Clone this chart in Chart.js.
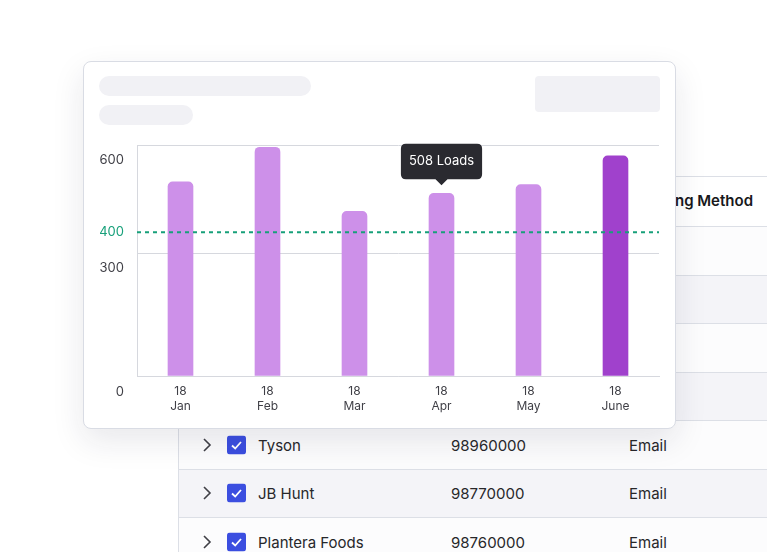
<!DOCTYPE html>
<html lang="en">
  <head>
    <meta charset="UTF-8" />
    <title>Monthly Loads</title>
    <style>
      html, body { margin: 0; padding: 0; }
      body {
        width: 767px; height: 552px; overflow: hidden; position: relative;
        background: #fff; font-family: Inter, "Noto Sans", sans-serif; color: #27272a;
      }
      .table {
        position: absolute; left: 178px; top: 176px; right: 0; bottom: 0;
        border-left: 1px solid #dcdfe6; z-index: 1;
      }
      .head {
        height: 50px; box-sizing: border-box; border-top: 1px solid #dcdfe6;
        position: relative; background: #fff;
      }
      .head span {
        position: absolute; right: 14px; top: 14px;
        font-size: 15px; font-weight: 600; color: #18181b;
      }
      .row {
        height: 48.5px; box-sizing: border-box; border-top: 1px solid #dcdfe6;
        position: relative; background: #fcfcfd; font-size: 15px;
      }
      .row.alt { background: #f4f4f8; }
      .row > * { position: absolute; top: 50%; transform: translateY(-50%); }
      .row .chev { left: 23px; }
      .row .box { left: 48px; }
      .row .name { left: 79px; }
      .row .num { left: 272px; }
      .row .method { left: 450px; }
      .card {
        position: absolute; left: 83px; top: 61px; width: 593px; height: 368px;
        box-sizing: border-box; border: 1px solid #d9dce4; border-radius: 8px;
        background: #fff; box-shadow: 0 12px 32px rgba(30, 30, 60, 0.10); z-index: 2;
      }
      .skel { position: absolute; background: #f1f1f5; z-index: 3; }
      #loadsChart { position: absolute; left: 90px; top: 125px; z-index: 3; }
    </style>
  </head>
  <body>
    <div class="table" id="table"></div>
    <div class="card"></div>
    <div class="skel" style="left:99px;top:76px;width:212px;height:20px;border-radius:10px"></div>
    <div class="skel" style="left:99px;top:105px;width:94px;height:20px;border-radius:10px"></div>
    <div class="skel" style="left:535px;top:76px;width:125px;height:36px;border-radius:4px"></div>
    <canvas id="loadsChart" width="578" height="296"></canvas>

    <script src="https://cdn.jsdelivr.net/npm/chart.js"></script>
    <script>
      // chart data
      const months = ["Jan", "Feb", "Mar", "Apr", "May", "June"];
      const dayLabel = "18";
      const loads = [540, 636, 458, 508, 532, 612];
      const targetLoads = 400;
      const yLabelValues = [0, 300, 400, 600];
      const gridValues = [0, 340, 640];
      const yMax = 640;
      const highlightMonth = "June";
      const tooltipMonth = "Apr";

      // table behind the card
      const tableHeader = "Billing Method";
      const tableRows = [
        ["", "", ""],
        ["", "", ""],
        ["", "", ""],
        ["", "", ""],
        ["Tyson", "98960000", "Email"],
        ["JB Hunt", "98770000", "Email"],
        ["Plantera Foods", "98760000", "Email"],
      ];

      const table = document.getElementById("table");
      table.innerHTML = '<div class="head"><span>' + tableHeader + "</span></div>";
      tableRows.forEach((r, i) => {
        const row = document.createElement("div");
        row.className = "row" + (i % 2 ? " alt" : "");
        if (r[0]) {
          row.innerHTML =
            '<svg class="chev" width="10" height="16" viewBox="0 0 10 16"><polyline points="2,2 8,8 2,14" fill="none" stroke="#3f3f46" stroke-width="1.6"/></svg>' +
            '<svg class="box" width="19" height="19" viewBox="0 0 19 19"><rect width="19" height="19" rx="3" fill="#3b4ee0"/><polyline points="5,10 8.2,13 14,6.5" fill="none" stroke="#fff" stroke-width="1.8"/></svg>' +
            '<span class="name">' + r[0] + "</span>" +
            '<span class="num">' + r[1] + "</span>" +
            '<span class="method">' + r[2] + "</span>";
        }
        table.appendChild(row);
      });

      Chart.defaults.font.family = "Inter";

      const gray = "#d6d8de";
      const green = "#17a07a";
      const textColor = "#3f3f46";

      const ctx = document.getElementById("loadsChart").getContext("2d");
      const chart = new Chart(ctx, {
        type: "bar",
        data: {
          labels: months.map((m) => [dayLabel, m]),
          datasets: [
            {
              type: "bar",
              data: loads,
              order: 1,
              grouped: false,
              backgroundColor: months.map((m) => (m === highlightMonth ? "#a041cc" : "#cd90e9")),
              barThickness: 25,
              borderRadius: { topLeft: 5, topRight: 5, bottomLeft: 0, bottomRight: 0 },
              borderSkipped: "start",
            },
            {
              // target line runs across the whole plot
              type: "line",
              xAxisID: "x2",
              order: 0,
              data: [0, 1].map((x) => ({ x: x, y: targetLoads })),
              borderColor: green,
              borderWidth: 2,
              borderDash: [4, 4],
              pointRadius: 0,
            },
          ],
        },
        options: {
          responsive: false,
          animation: false,
          events: [],
          layout: { padding: { top: 10, right: 9, left: 0, bottom: 0 } },
          scales: {
            x: {
              offset: true,
              grid: {
                offset: true,
                drawTicks: false,
                color: (c) => (c.index === 0 || c.index === months.length ? gray : "transparent"),
              },
              border: { color: gray },
              ticks: {
                padding: 8,
                color: textColor,
                font: { size: 12, lineHeight: 1.25 },
              },
              afterFit: (s) => { s.height = 44; },
            },
            x2: { type: "linear", display: false, offset: false, min: 0, max: 1 },
            y: {
              min: 0,
              max: yMax,
              afterBuildTicks: (axis) => {
                const vals = [...new Set([...yLabelValues, ...gridValues])].sort((a, b) => a - b);
                axis.ticks = vals.map((v) => ({ value: v }));
              },
              grid: {
                drawTicks: false,
                color: (c) => (c.tick && gridValues.includes(c.tick.value) ? gray : "transparent"),
              },
              border: { color: gray },
              ticks: {
                autoSkip: false,
                padding: 13,
                color: (c) => (c.tick && c.tick.value === targetLoads ? green : textColor),
                font: (c) => ({
                  size: 13,
                  // the zero label sits on the same line as the day numbers
                  lineHeight: c.tick && c.tick.value === 0 ? "32px" : 1.2,
                }),
                callback: (v) => {
                  if (!yLabelValues.includes(v)) return "";
                  return v === 0 ? ["", String(v)] : String(v);
                },
              },
              afterFit: (s) => { s.width = 47; },
            },
          },
          plugins: {
            legend: { display: false },
            tooltip: {
              animation: false,
              filter: (item) => item.datasetIndex === 0,
              displayColors: false,
              backgroundColor: "#2a2a30",
              bodyColor: "#ffffff",
              bodyFont: { size: 13 },
              padding: { x: 8, y: 10 },
              cornerRadius: 5,
              caretSize: 6,
              caretPadding: 8,
              xAlign: "center",
              yAlign: "bottom",
              callbacks: {
                title: () => "",
                label: (item) => item.parsed.y + " Loads",
              },
            },
          },
        },
      });

      chart.tooltip.setActiveElements(
        [{ datasetIndex: 0, index: months.indexOf(tooltipMonth) }],
        { x: 0, y: 0 }
      );
      chart.update();
    </script>
  </body>
</html>
